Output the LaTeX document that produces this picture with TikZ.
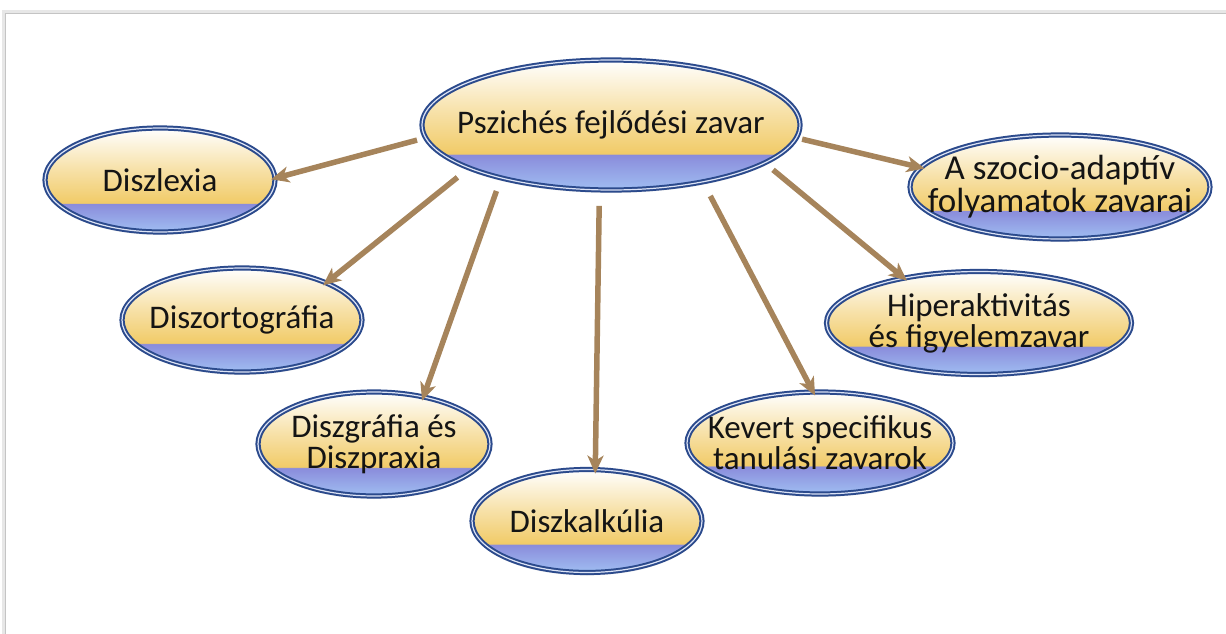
\documentclass[tikz,border=0pt]{standalone}
\usepackage{fontspec}
\setmainfont{Carlito}
\usetikzlibrary{arrows.meta, shapes.geometric, shadows}

\definecolor{ovalline}{HTML}{2B4A8C}
\definecolor{ovalinner}{HTML}{DCE3F5}
\definecolor{ovalyel}{HTML}{F1CB68}
\definecolor{ovalbluehi}{HTML}{8A8CDB}
\definecolor{ovalbluelo}{HTML}{A0BEF2}
\definecolor{linkbrown}{HTML}{A6845B}
\definecolor{framegray}{HTML}{C4C4C4}

\pgfdeclareverticalshading{ovalfill}{100bp}{color(0bp)=(ovalbluelo); color(25bp)=(ovalbluelo); color(38.5bp)=(ovalbluehi); color(39bp)=(ovalyel); color(56bp)=(ovalyel!55!white); color(75bp)=(white); color(100bp)=(white)}

\begin{document}
\begin{tikzpicture}[
    x=1pt, y=-1pt,
    font=\fontsize{33}{31}\selectfont,
    oval/.style={
        ellipse,
        draw=ovalline,
        line width=2pt,
        double=ovalinner,
        double distance=1.2pt,
        shade,
        shading=ovalfill,
        inner xsep=-45pt,
        inner ysep=-15pt,
        align=center,
        text=black!92,
        drop shadow={shadow xshift=0pt, shadow yshift=-3pt, opacity=0.15}
    },
    link/.style={
        draw=linkbrown,
        line width=5.5pt,
        -{Stealth[length=18pt, width=16pt, inset=5pt]},
        shorten >=-5pt
    }
]
\useasboundingbox (0,0) rectangle (1226,634);

% --- Frame ---
\draw[framegray!40, line width=3pt] (3,634) -- (3,12) -- (1226,12);
\draw[framegray, line width=1pt] (5,634) -- (5,14) -- (1226,14);

% --- Central oval ---
\node[oval, minimum width=378, minimum height=130] (pfz) at (611,125) {Pszichés fejlődési zavar};

% --- Left side ---
\node[oval, minimum width=230, minimum height=104] (dlx) at (160,180) {Diszlexia};
\node[oval, minimum width=240, minimum height=104] (dort) at (242,320) {Diszortográfia};
\node[oval, minimum width=232, minimum height=104] (dgr) at (374,444) {Diszgráfia és\\Diszpraxia};

% --- Bottom ---
\node[oval, minimum width=230, minimum height=103] (dkk) at (587,521) {Diszkalkúlia};

% --- Right side ---
\node[oval, minimum width=266, minimum height=102] (kev) at (820,443) {Kevert specifikus\\tanulási zavarok};
\node[oval, minimum width=305, minimum height=103] (hip) at (979,323) {Hiperaktivitás\\és figyelemzavar};
\node[oval, minimum width=300, minimum height=104, font=\fontsize{35}{33}\selectfont] (sza) at (1060,187) {A szocio-adaptív\\folyamatok zavarai};

% --- Connections ---
\draw[link, shorten <=8pt] (pfz.184) -- (dlx.1);
\draw[link, shorten <=14pt] (pfz.197) -- (dort.24);
\draw[link, shorten <=13pt] (pfz.206) -- (dgr.44);
\draw[link, shorten <=15pt] (pfz.260) -- (dkk.81);
\draw[link, shorten <=15pt] (pfz.328) -- (kev.98);
\draw[link, shorten <=10pt] (pfz.346) -- (hip.149);
\draw[link, shorten <=5pt] (pfz.356) -- (sza.172);

\end{tikzpicture}
\end{document}
